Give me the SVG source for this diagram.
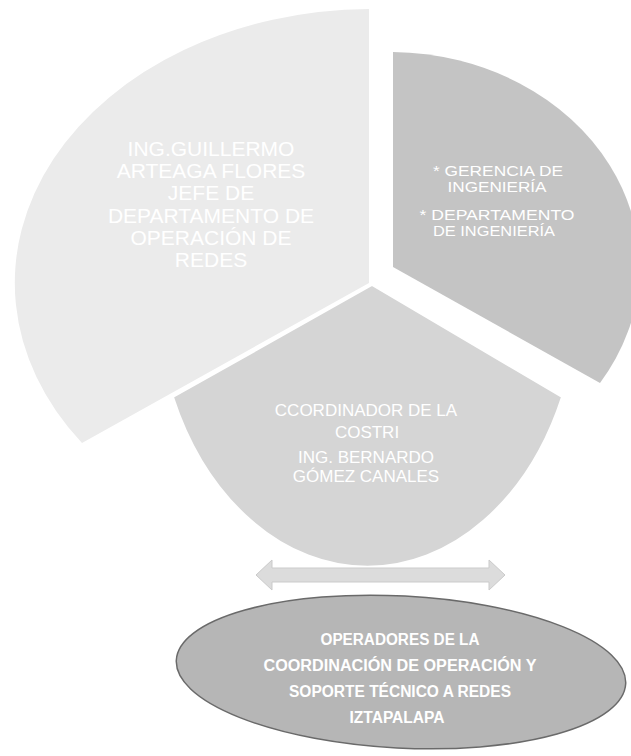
<svg xmlns="http://www.w3.org/2000/svg" width="631" height="756" viewBox="0 0 631 756">
<style>
.t{font-family:"Liberation Sans",Arial,sans-serif;fill:#ffffff;text-anchor:middle}
.l{font-size:21px}
.r{font-size:14px}
.b{font-size:17px}
.e{font-family:"Liberation Sans",Arial,sans-serif;fill:#ffffff;text-anchor:middle;font-size:16px;font-weight:bold}
</style>
<rect width="631" height="756" fill="#ffffff"/>
<g id="node-jefe">
<path d="M369,283 L369,9 A357,274 0 0 0 82,443 Z" fill="#ebebeb"/>
<text class="t l" x="211" y="156">ING.GUILLERMO</text>
<text class="t l" x="211" y="178">ARTEAGA FLORES</text>
<text class="t l" x="211" y="200">JEFE DE</text>
<text class="t l" x="211" y="223">DEPARTAMENTO DE</text>
<text class="t l" x="211" y="245">OPERACIÓN DE</text>
<text class="t l" x="211" y="267">REDES</text>
</g>
<g id="node-gerencia">
<path d="M393,267 L393,52 A250,215 0 0 1 600,383 Z" fill="#c4c4c4"/>
<text class="t r" x="498" y="176" textLength="130" lengthAdjust="spacingAndGlyphs">* GERENCIA DE</text>
<text class="t r" x="497" y="192" textLength="99" lengthAdjust="spacingAndGlyphs">INGENIERÍA</text>
<text class="t r" x="497" y="220" textLength="155" lengthAdjust="spacingAndGlyphs">* DEPARTAMENTO</text>
<text class="t r" x="494" y="236" textLength="122" lengthAdjust="spacingAndGlyphs">DE INGENIERÍA</text>
</g>
<g id="node-coordinador">
<path d="M372,285 L173,397 A212,282 0 0 0 562,397 Z" fill="#d5d5d5" stroke="#ffffff" stroke-width="2" stroke-linejoin="miter"/>
<text class="t b" x="366" y="416">CCORDINADOR DE LA</text>
<text class="t b" x="367" y="438">COSTRI</text>
<text class="t b" x="366" y="463">ING. BERNARDO</text>
<text class="t b" x="366" y="482">GÓMEZ CANALES</text>
</g>
<g id="connectors">
<path d="M256,575 L272,560 L272,568 L489,568 L489,560 L505,575 L489,590 L489,582 L272,582 L272,590 Z" fill="#dcdcdc" stroke="#cbcbcb" stroke-width="1"/>
</g>
<g id="node-operadores">
<ellipse cx="401" cy="672" rx="225" ry="76" transform="rotate(3 401 672)" fill="#b6b6b6" stroke="#6a6a6a" stroke-width="1.5"/>
<text class="e" x="400" y="645" textLength="159" lengthAdjust="spacingAndGlyphs">OPERADORES DE LA</text>
<text class="e" x="400" y="671" textLength="273" lengthAdjust="spacingAndGlyphs">COORDINACIÓN DE OPERACIÓN Y</text>
<text class="e" x="400" y="697" textLength="222" lengthAdjust="spacingAndGlyphs">SOPORTE TÉCNICO A REDES</text>
<text class="e" x="397" y="723" textLength="95" lengthAdjust="spacingAndGlyphs">IZTAPALAPA</text>
</g>
</svg>
